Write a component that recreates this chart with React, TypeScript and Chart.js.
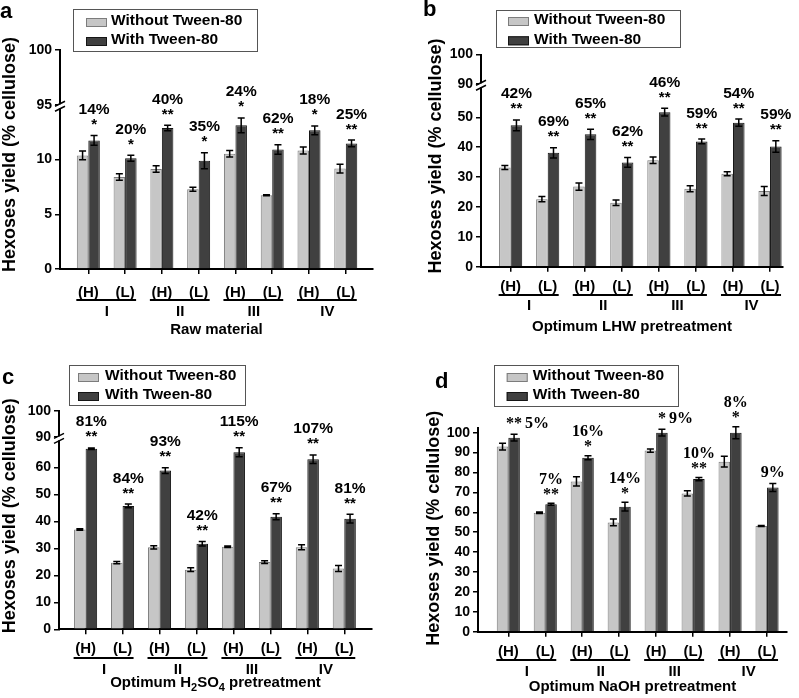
import React, { useEffect, useRef } from 'react';
import { Chart, registerables } from 'chart.js';
Chart.register(...registerables);

const SANS = '"Liberation Sans", Arial, Helvetica, sans-serif';
const SERIF = '"Liberation Serif", "Times New Roman", serif';

const seriesLabels = ['Without Tween-80', 'With Tween-80'];
const pairLabels = ['(H)', '(L)', '(H)', '(L)', '(H)', '(L)', '(H)', '(L)'];
const groupLabels = ['I', 'II', 'III', 'IV'];

// Panel a: Raw material
const aWithout = [10.37, 8.41, 9.14, 7.28, 10.52, 6.73, 10.83, 9.17];
const aWithoutErr = [0.4, 0.3, 0.3, 0.18, 0.3, 0.05, 0.32, 0.4];
const aWith = [11.74, 10.12, 12.87, 9.88, 13.12, 10.92, 12.66, 11.47];
const aWithErr = [0.45, 0.27, 0.25, 0.73, 0.67, 0.43, 0.4, 0.3];
const aPct = ['14%', '20%', '40%', '35%', '24%', '62%', '18%', '25%'];
const aStars = ['*', '*', '**', '*', '*', '**', '*', '**'];
const aTickValues = [0, 5, 10, 15, 20];
const aTickLabels = ['0', '5', '10', '95', '100'];
const aTitle: [string, boolean][] = [['Raw material', false]];

// Panel b: Optimum LHW pretreatment
const bWithout = [33.2, 22.6, 26.8, 21.4, 35.6, 26.1, 31.1, 25.3];
const bWithoutErr = [0.7, 0.9, 1.2, 0.9, 1.1, 1.0, 0.7, 1.5];
const bWith = [47.3, 38.1, 44.3, 34.9, 51.7, 41.9, 48.2, 40.2];
const bWithErr = [1.8, 1.7, 1.7, 1.6, 1.3, 0.8, 1.2, 1.9];
const bPct = ['42%', '69%', '65%', '62%', '46%', '59%', '54%', '59%'];
const bStars = ['**', '**', '**', '**', '**', '**', '**', '**'];
const bTickValues = [0, 10, 20, 30, 40, 50, 61.2, 71];
const bTickLabels = ['0', '10', '20', '30', '40', '50', '90', '100'];
const bTitle: [string, boolean][] = [['Optimum LHW pretreatment', false]];

// Panel c: Optimum H2SO4 pretreatment
const cWithout = [37.0, 24.7, 30.4, 22.1, 30.6, 24.9, 30.4, 22.5];
const cWithoutErr = [0.3, 0.4, 0.6, 0.7, 0.3, 0.5, 0.9, 1.1];
const cWith = [66.9, 45.7, 58.8, 31.7, 65.6, 41.7, 63.0, 41.0];
const cWithErr = [0.3, 0.7, 1.1, 0.8, 1.7, 1.1, 1.6, 1.6];
const cPct = ['81%', '84%', '93%', '42%', '115%', '67%', '107%', '81%'];
const cStars = ['**', '**', '**', '**', '**', '**', '**', '**'];
const cTickValues = [0, 10, 20, 30, 40, 50, 60, 71.3, 81];
const cTickLabels = ['0', '10', '20', '30', '40', '50', '60', '90', '100'];
const cTitle: [string, boolean][] = [['Optimum H', false], ['2', true], ['SO', false], ['4', true], [' pretreatment', false]];

// Panel d: Optimum NaOH pretreatment
const dWithout = [93.0, 59.8, 75.5, 54.9, 91.0, 69.5, 85.4, 53.1];
const dWithoutErr = [1.7, 0.4, 2.3, 1.7, 0.8, 1.3, 2.7, 0.3];
const dWith = [97.5, 64.0, 87.4, 62.8, 100.0, 76.7, 100.0, 72.5];
const dWithErr = [1.7, 0.5, 1.0, 2.2, 1.7, 0.8, 3.0, 2.0];
const dPct = ['5%', '7%', '16%', '14%', '9%', '10%', '8%', '9%'];
const dStars = ['**', '**', '*', '*', '*', '**', '*', ''];
const dInline = [true, false, false, false, true, false, false, false];
const dTickValues = [0, 10, 20, 30, 40, 50, 60, 70, 80, 90, 100];
const dTickLabels = ['0', '10', '20', '30', '40', '50', '60', '70', '80', '90', '100'];
const dTitle: [string, boolean][] = [['Optimum NaOH pretreatment', false]];

type PanelCfg = {
  left: number; top: number; w: number; h: number;
  area: { l: number; r: number; t: number; b: number };
  xMin: number; xMax: number; yMax: number;
  tickValues: number[]; tickLabels: string[]; breakValue: number | null;
  without: number[]; withoutErr: number[]; withV: number[]; withErr: number[];
  pct: string[]; stars: string[]; inline: boolean[] | null; serif: boolean;
  letter: string; letterPos: [number, number];
  legend: { x: number; y: number; w: number; h: number; sx: number; tx: number; rows: [number, number] };
  yTitle: [number, number];
  xlabPad: number; lineOff: number; romanOff: number; titleOff: number;
  title: [string, boolean][];
};

const panels: PanelCfg[] = [
  {
    left: 0, top: 0, w: 400, h: 340,
    area: { l: 60, r: 373, t: 50, b: 269 }, xMin: -0.77, xMax: 7.74, yMax: 20,
    tickValues: aTickValues, tickLabels: aTickLabels, breakValue: 15,
    without: aWithout, withoutErr: aWithoutErr, withV: aWith, withErr: aWithErr,
    pct: aPct, stars: aStars, inline: null, serif: false,
    letter: 'a', letterPos: [0, 18],
    legend: { x: 73, y: 9, w: 184, h: 42, sx: 86, tx: 111, rows: [21, 40] },
    yTitle: [10, 154.5], xlabPad: 10, lineOff: 31, romanOff: 42.7, titleOff: 61, title: aTitle,
  },
  {
    left: 400, top: 0, w: 399, h: 340,
    area: { l: 81, r: 383, t: 54.5, b: 266.7 }, xMin: -0.8, xMax: 7.35, yMax: 71,
    tickValues: bTickValues, tickLabels: bTickLabels, breakValue: 61.2,
    without: bWithout, withoutErr: bWithoutErr, withV: bWith, withErr: bWithErr,
    pct: bPct, stars: bStars, inline: null, serif: false,
    letter: 'b', letterPos: [23, 16],
    legend: { x: 96, y: 10, w: 184, h: 37, sx: 108, tx: 134, rows: [20, 39.3] },
    yTitle: [35.6, 156], xlabPad: 6, lineOff: 28.3, romanOff: 39.3, titleOff: 60, title: bTitle,
  },
  {
    left: 0, top: 340, w: 400, h: 358,
    area: { l: 59, r: 372, t: 70.7, b: 289.3 }, xMin: -0.72, xMax: 7.75, yMax: 81,
    tickValues: cTickValues, tickLabels: cTickLabels, breakValue: 71.3,
    without: cWithout, withoutErr: cWithoutErr, withV: cWith, withErr: cWithErr,
    pct: cPct, stars: cStars, inline: null, serif: false,
    letter: 'c', letterPos: [2, 44],
    legend: { x: 69, y: 25, w: 176, h: 40, sx: 78, tx: 105, rows: [36, 55] },
    yTitle: [10, 175.8], xlabPad: 6, lineOff: 28.7, romanOff: 40.7, titleOff: 54, title: cTitle,
  },
  {
    left: 400, top: 340, w: 399, h: 358,
    area: { l: 78, r: 387, t: 87.7, b: 291.7 }, xMin: -0.82, xMax: 7.54, yMax: 102.5,
    tickValues: dTickValues, tickLabels: dTickLabels, breakValue: null,
    without: dWithout, withoutErr: dWithoutErr, withV: dWith, withErr: dWithErr,
    pct: dPct, stars: dStars, inline: dInline, serif: true,
    letter: 'd', letterPos: [35, 48],
    legend: { x: 94, y: 25, w: 184, h: 41, sx: 106.7, tx: 132.7, rows: [36, 55] },
    yTitle: [34, 188.3], xlabPad: 6, lineOff: 28.3, romanOff: 40, titleOff: 55, title: dTitle,
  },
];

const LIGHT = '#c6c6c6';
const LIGHT_BORDER = '#7c7c7c';
const DARK = '#404040';
const DARK_BORDER = '#151515';

function Panel({ p }: { p: PanelCfg }) {
  const ref = useRef<HTMLCanvasElement | null>(null);
  useEffect(() => {
    if (!ref.current) return;
    const decor = {
      id: 'decor',
      afterDatasetsDraw(chart: any) {
        const ctx = chart.ctx;
        const ys = chart.scales.y;
        const sets = [[p.without, p.withoutErr], [p.withV, p.withErr]];
        sets.forEach(([vals, errs], di) => {
          const meta = chart.getDatasetMeta(di);
          meta.data.forEach((bar: any, i: number) => {
            const x = bar.x;
            const yt = ys.getPixelForValue(vals[i] + errs[i]);
            const yb = ys.getPixelForValue(vals[i] - errs[i]);
            ctx.save();
            ctx.strokeStyle = '#000';
            ctx.lineWidth = 1.5;
            ctx.beginPath();
            ctx.moveTo(x, yt); ctx.lineTo(x, yb);
            ctx.moveTo(x - 3.5, yt); ctx.lineTo(x + 3.5, yt);
            ctx.moveTo(x - 3.5, yb); ctx.lineTo(x + 3.5, yb);
            ctx.stroke();
            ctx.restore();
          });
        });
      },
      afterDraw(chart: any) {
        const ctx = chart.ctx;
        const xs = chart.scales.x;
        const ys = chart.scales.y;
        const area = chart.chartArea;
        ctx.save();
        ctx.fillStyle = '#000';
        ctx.strokeStyle = '#000';

        // axis break
        if (p.breakValue !== null) {
          const by = ys.getPixelForValue(p.breakValue) + 1.5;
          const bx = area.left;
          ctx.fillStyle = '#fff';
          ctx.fillRect(bx - 2, by - 2, 4, 4);
          ctx.fillStyle = '#000';
          ctx.lineWidth = 1.5;
          ctx.beginPath();
          [-2.5, 2.5].forEach((d) => {
            ctx.moveTo(bx - 5, by + d + 2.5);
            ctx.lineTo(bx + 5, by + d - 2.5);
          });
          ctx.stroke();
        }

        // annotations
        const dark = chart.getDatasetMeta(1);
        dark.data.forEach((bar: any, i: number) => {
          const x = bar.x;
          const et = ys.getPixelForValue(p.withV[i] + p.withErr[i]);
          ctx.textAlign = 'center';
          ctx.textBaseline = 'alphabetic';
          if (!p.serif) {
            ctx.font = `bold 15.5px ${SANS}`;
            ctx.fillText(p.pct[i], x, et - 21.5);
            ctx.font = `bold 15px ${SANS}`;
            ctx.fillText(p.stars[i], x, et - 6.5);
          } else {
            ctx.font = `bold 16px ${SERIF}`;
            const st = p.stars[i];
            if (p.inline && p.inline[i]) {
              const sw = ctx.measureText(st).width;
              ctx.fillText(st, x, et - 6);
              ctx.textAlign = 'left';
              ctx.fillText(p.pct[i], x + sw / 2 + 3, et - 6);
            } else if (!st) {
              ctx.fillText(p.pct[i], x, et - 6.3);
            } else {
              ctx.fillText(p.pct[i], x, et - 19.7);
              ctx.fillText(st, x, et - 4.5);
            }
          }
        });

        // grouping lines, roman numerals
        ctx.lineWidth = 2;
        ctx.textAlign = 'center';
        ctx.textBaseline = 'middle';
        ctx.font = `bold 15px ${SANS}`;
        groupLabels.forEach((g, gi) => {
          const xh = xs.getPixelForValue(gi * 2);
          const xl = xs.getPixelForValue(gi * 2 + 1);
          const ly = area.bottom + p.lineOff;
          ctx.beginPath();
          ctx.moveTo(xh - 12, ly);
          ctx.lineTo(xl + 11, ly);
          ctx.stroke();
          ctx.fillText(g, (xh + xl) / 2, area.bottom + p.romanOff);
        });

        // x title with optional subscripts
        const mainFont = `bold 15px ${SANS}`;
        const subFont = `bold 11px ${SANS}`;
        let total = 0;
        p.title.forEach(([t, sub]) => {
          ctx.font = sub ? subFont : mainFont;
          total += ctx.measureText(t).width;
        });
        let tx = (area.left + area.right) / 2 - total / 2;
        const ty = area.bottom + p.titleOff;
        ctx.textAlign = 'left';
        p.title.forEach(([t, sub]) => {
          ctx.font = sub ? subFont : mainFont;
          ctx.fillText(t, tx, sub ? ty + 5 : ty);
          tx += ctx.measureText(t).width;
        });

        // y title
        ctx.save();
        ctx.translate(p.yTitle[0], p.yTitle[1]);
        ctx.rotate(-Math.PI / 2);
        ctx.textAlign = 'center';
        ctx.textBaseline = 'middle';
        ctx.font = `bold 18px ${SANS}`;
        ctx.fillText('Hexoses yield (% cellulose)', 0, 0);
        ctx.restore();

        // panel letter
        ctx.textAlign = 'left';
        ctx.textBaseline = 'alphabetic';
        ctx.font = `bold 22px ${SANS}`;
        ctx.fillText(p.letter, p.letterPos[0], p.letterPos[1]);

        // legend
        const L = p.legend;
        ctx.lineWidth = 1;
        ctx.strokeStyle = '#555';
        ctx.strokeRect(L.x + 0.5, L.y + 0.5, L.w, L.h);
        const fills = [[LIGHT, LIGHT_BORDER], [DARK, DARK_BORDER]];
        seriesLabels.forEach((lab, li) => {
          const ry = L.rows[li];
          ctx.fillStyle = fills[li][0];
          ctx.fillRect(L.sx, ry - 3, 21, 9);
          ctx.strokeStyle = fills[li][1];
          ctx.strokeRect(L.sx + 0.5, ry - 2.5, 20, 8);
          ctx.fillStyle = '#000';
          ctx.font = `bold 15.5px ${SANS}`;
          ctx.textBaseline = 'middle';
          ctx.fillText(lab, L.tx, ry);
        });
        ctx.restore();
      },
    };

    const axisGrid = {
      display: true, drawOnChartArea: false, drawTicks: true, tickLength: 5,
      color: '#000', lineWidth: 1.5, offset: false,
    };
    const chart = new Chart(ref.current, {
      type: 'bar',
      data: {
        datasets: [
          {
            label: seriesLabels[0],
            data: p.without.map((v, i) => ({ x: i, y: v })),
            backgroundColor: LIGHT, borderColor: LIGHT_BORDER, borderWidth: 1,
            categoryPercentage: 0.625, barPercentage: 1, clip: false,
          } as any,
          {
            label: seriesLabels[1],
            data: p.withV.map((v, i) => ({ x: i, y: v })),
            backgroundColor: DARK, borderColor: DARK_BORDER, borderWidth: 1,
            categoryPercentage: 0.625, barPercentage: 1, clip: false,
          } as any,
        ],
      },
      options: {
        responsive: false,
        animation: false,
        devicePixelRatio: 1,
        layout: { padding: { top: p.area.t, right: p.w - p.area.r, left: 0, bottom: 0 } },
        plugins: { legend: { display: false }, tooltip: { enabled: false } },
        scales: {
          x: {
            type: 'linear', min: p.xMin, max: p.xMax, offset: false,
            afterBuildTicks: (s: any) => { s.ticks = pairLabels.map((_, i) => ({ value: i })); },
            afterFit: (s: any) => { s.height = p.h - p.area.b; },
            ticks: {
              autoSkip: false, maxRotation: 0, padding: p.xlabPad, color: '#000',
              font: { family: SANS, size: 15, weight: 'bold' },
              callback: (v: any) => pairLabels[Math.round(v)] ?? '',
            },
            grid: axisGrid,
            border: { display: true, color: '#000', width: 2 },
          },
          y: {
            type: 'linear', min: 0, max: p.yMax,
            afterBuildTicks: (s: any) => { s.ticks = p.tickValues.map((v) => ({ value: v })); },
            afterFit: (s: any) => { s.width = p.area.l; },
            ticks: {
              padding: 3, color: '#000',
              font: { family: SANS, size: 14, weight: 'bold' },
              callback: (_v: any, i: number) => p.tickLabels[i],
            },
            grid: axisGrid,
            border: { display: true, color: '#000', width: 2 },
          },
        },
      } as any,
      plugins: [decor],
    });
    return () => chart.destroy();
  }, [p]);
  return (
    <canvas
      ref={ref}
      width={p.w}
      height={p.h}
      style={{ position: 'absolute', left: p.left, top: p.top, width: p.w, height: p.h }}
    />
  );
}

export default function App() {
  return (
    <div style={{ position: 'absolute', left: 0, top: 0, width: 799, height: 698, background: '#fff' }}>
      {panels.map((p) => (
        <Panel key={p.letter} p={p} />
      ))}
    </div>
  );
}
